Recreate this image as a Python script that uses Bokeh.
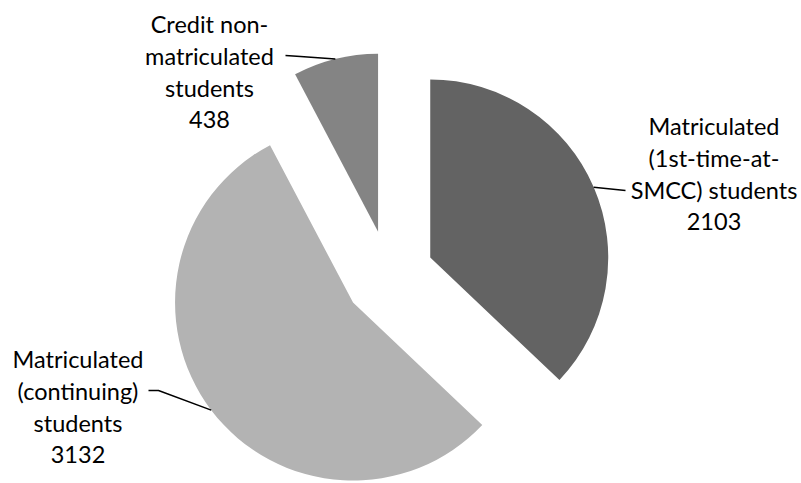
import math
from bokeh.plotting import figure
from bokeh.models import Range1d, ColumnDataSource
from bokeh.core.properties import value
from bokeh.embed import file_html
from bokeh.resources import INLINE

# ---- data ----
categories = ["Matriculated (1st-time-at-SMCC) students",
              "Matriculated (continuing) students",
              "Credit non-matriculated students"]
counts = [2103, 3132, 438]
label_lines = [["Matriculated", "(1st-time-at-", "SMCC) students", "2103"],
               ["Matriculated", "(continuing)", "students", "3132"],
               ["Credit non-", "matriculated", "students", "438"]]

# ---- style / layout ----
colors = ["#636363", "#b3b3b3", "#848484"]
W, H = 801, 483
CX, CY = 388.4, 483 - 274.9     # pie centre (y up, page px)
R = 178
EXPLODE = 45
FONT = "Lato"
FSIZE = "23.5px"
LINE_GAP = 32
# label anchor (centre x, first baseline y in page px) and leader bend points
label_anchor = [(713.5, 125), (77.5, 358), (209, 23)]
leader_pts = [[(625, 190)], [(158, 390), (148, 390)], [(300, 56), (285, 55)]]

p = figure(width=W, height=H, x_range=Range1d(0, W), y_range=Range1d(483 - H, 483),
           x_axis_type=None, y_axis_type=None, toolbar_location=None,
           output_backend="svg", min_border=0)
p.outline_line_color = None
p.grid.visible = False
p.background_fill_color = "white"
p.border_fill_color = "white"

total = sum(counts)
acc = 0.0
xs, ys, sa, ea = [], [], [], []
bis = []
for v in counts:
    a0 = acc / total * 360.0
    a1 = (acc + v) / total * 360.0
    acc += v
    m = math.radians((a0 + a1) / 2)
    ox = CX + EXPLODE * math.sin(m)
    oy = CY + EXPLODE * math.cos(m)
    xs.append(ox); ys.append(oy)
    sa.append(math.radians(90 - a1)); ea.append(math.radians(90 - a0))
    bis.append((ox + R * math.sin(m), oy + R * math.cos(m)))

src = ColumnDataSource(dict(x=xs, y=ys, start=sa, end=ea, color=colors, cat=categories))
p.wedge(x="x", y="y", radius=R, start_angle="start", end_angle="end",
        direction="anticlock", fill_color="color", line_color=None, source=src)

# leader lines
for i in range(len(counts)):
    pts = [bis[i]] + [(x, 483 - y) for (x, y) in leader_pts[i]]
    p.line([q[0] for q in pts], [q[1] for q in pts], line_color="black", line_width=1.5)

# labels
tx, ty, tt = [], [], []
for i, lines in enumerate(label_lines):
    ax, ay = label_anchor[i]
    for k, s in enumerate(lines):
        tx.append(ax); ty.append(483 - (ay + k * LINE_GAP)); tt.append(s)
p.text(x=tx, y=ty, text=tt, text_align="center", text_baseline="alphabetic",
       text_font=value(FONT), text_font_size=FSIZE, text_color="black")

open("out.html", "w").write(file_html(p, INLINE))
